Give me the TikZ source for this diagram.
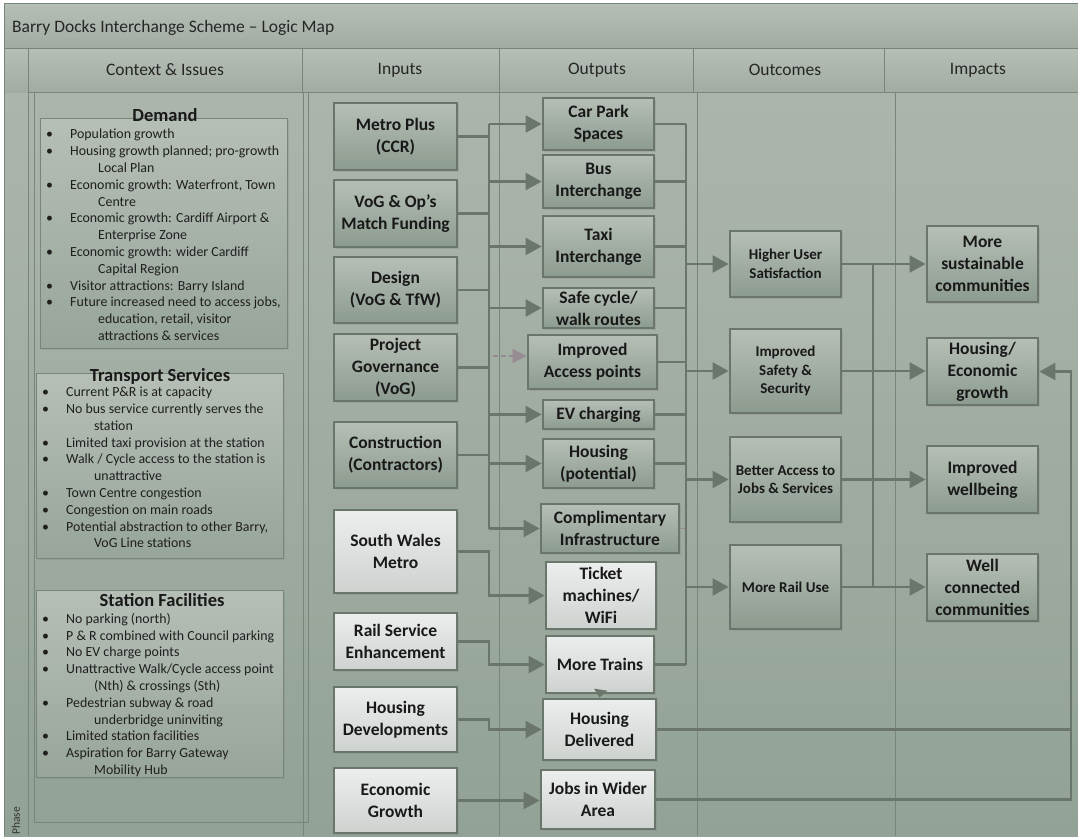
\documentclass[tikz,border=0pt]{standalone}
\usepackage{fontspec}
\setmainfont{Carlito}
\usetikzlibrary{arrows.meta,shadows}

\definecolor{bgtop}{RGB}{172,181,172}
\definecolor{bgbot}{RGB}{146,162,150}
\definecolor{boxtop}{RGB}{182,191,182}
\definecolor{boxbot}{RGB}{140,155,143}
\definecolor{edge}{RGB}{106,118,108}
\definecolor{lighttop}{RGB}{236,238,237}
\definecolor{lightbot}{RGB}{205,210,207}
\definecolor{rule}{RGB}{120,133,123}
\definecolor{pinkish}{RGB}{152,140,148}

\newcommand{\bul}{\makebox[24pt][l]{\textbullet}}
\newcommand{\ind}{\hspace*{52pt}}

\begin{document}
\begin{tikzpicture}[x=1pt,y=-1pt,>={Triangle[length=16pt,width=17pt]},
    box/.style={draw=edge,line width=2.8pt,top color=boxtop,bottom color=boxbot,
      align=center,inner sep=0pt,text=black!90,
      font=\fontsize{17.5}{22}\selectfont\bfseries,
      drop shadow={shadow xshift=1.5pt,shadow yshift=-1.5pt,opacity=0.25}},
    litebox/.style={box,top color=lighttop,bottom color=lightbot},
    smallbox/.style={box,font=\fontsize{15}{18.5}\selectfont\bfseries},
    listbox/.style={draw=rule,line width=0.8pt,top color=boxtop,bottom color=boxbot!90!white,
      inner sep=0pt,drop shadow={shadow xshift=1.5pt,shadow yshift=-1.5pt,opacity=0.25}},
    listhead/.style={inner sep=0pt,text=black!90,font=\fontsize{18.5}{20}\selectfont\bfseries},
    listtext/.style={anchor=north west,align=left,inner sep=0pt,text=black!88,
      font=\fontsize{13.9}{16.8}\selectfont},
    head/.style={inner sep=0pt,text=black!85,font=\fontsize{17.5}{20}\selectfont},
    rulel/.style={draw=rule,line width=0.8pt},
    link/.style={draw=edge,line width=2.4pt},
    arr/.style={link,->},
    pinklink/.style={draw=pinkish,line width=1.6pt},
    dasharr/.style={draw=pinkish,line width=1.6pt,dash pattern=on 5pt off 3pt,
      -{Triangle[length=14pt,width=14pt]}}]

    \useasboundingbox (0,0) rectangle (1078,836);
    \fill[white] (0,0) rectangle (1078,836);

    % frame and headings
    \shade[top color=bgtop,bottom color=bgbot] (4,92) rectangle (1078,836);
    \shade[top color=boxtop,bottom color=bgtop!85!edge] (4,3) rectangle (1078,48);
    \shade[top color=boxtop,bottom color=bgtop!85!edge] (4,48) rectangle (1078,92);
    \draw[rulel] (4,3) rectangle (1078,48);
    \draw[rulel] (4,48) -- (4,836);
    \draw[rulel] (28,48) -- (28,836);
    \draw[rulel] (28,48) rectangle (302,92);
    \draw[rulel] (302,48) rectangle (499,92);
    \draw[rulel] (499,48) rectangle (693,92);
    \draw[rulel] (693,48) rectangle (884,92);
    \draw[rulel] (884,48) rectangle (1078,92);
    \draw[rulel] (34,92) rectangle (308,822);
    \draw[rulel] (303,92) -- (303,836);
    \draw[rulel] (499,92) -- (499,836);
    \draw[rulel] (697,92) -- (697,836);
    \draw[rulel] (895,92) -- (895,836);

    \node[head,anchor=west] (title) at (12,28) {Barry Docks Interchange Scheme – Logic Map};
    \node[head] (hctx) at (165,70) {Context \& Issues};
    \node[head] (hin) at (400,70) {Inputs};
    \node[head] (hout) at (597,70) {Outputs};
    \node[head] (hoc) at (785,70) {Outcomes};
    \node[head] (him) at (978,70) {Impacts};
    \node[inner sep=0pt,rotate=90,text=black!80,font=\fontsize{11.5}{13}\selectfont] (phase) at (16,821) {Phase};

    % context & issues
    \node[listbox,minimum width=247pt,minimum height=230pt] (dem) at (163.5,233) {};
    \node[listhead] (demt) at (165,115) {Demand};
    \node[listtext] (deml) at (46,129) {\bul Population growth\\
      \bul Housing growth planned; pro-growth\\
      \ind Local Plan\\
      \bul Economic growth: Waterfront, Town\\
      \ind Centre\\
      \bul Economic growth: Cardiff Airport \&\\
      \ind Enterprise Zone\\
      \bul Economic growth: wider Cardiff\\
      \ind Capital Region\\
      \bul Visitor attractions: Barry Island\\
      \bul Future increased need to access jobs,\\
      \ind education, retail, visitor\\
      \ind attractions \& services};

    \node[listbox,minimum width=247pt,minimum height=185pt] (trs) at (159.5,465.5) {};
    \node[listhead] (trst) at (160,376) {Transport Services};
    \node[listtext] (trsl) at (42,387) {\bul Current P\&R is at capacity\\
      \bul No bus service currently serves the\\
      \ind station\\
      \bul Limited taxi provision at the station\\
      \bul Walk / Cycle access to the station is\\
      \ind unattractive\\
      \bul Town Centre congestion\\
      \bul Congestion on main roads\\
      \bul Potential abstraction to other Barry,\\
      \ind VoG Line stations};

    \node[listbox,minimum width=247pt,minimum height=187pt] (fac) at (159.5,683.5) {};
    \node[listhead] (fact) at (162,600) {Station Facilities};
    \node[listtext] (facl) at (42,613) {\bul No parking (north)\\
      \bul P \& R combined with Council parking\\
      \bul No EV charge points\\
      \bul Unattractive Walk/Cycle access point\\
      \ind (Nth) \& crossings (Sth)\\
      \bul Pedestrian subway \& road\\
      \ind underbridge uninviting\\
      \bul Limited station facilities\\
      \bul Aspiration for Barry Gateway\\
      \ind Mobility Hub};

    % inputs
    \node[box,minimum width=123pt,minimum height=67pt] (metro) at (395.5,136.5) {Metro Plus\\(CCR)};
    \node[box,minimum width=123pt,minimum height=67pt] (vog) at (395.5,213.5) {VoG \& Op’s\\Match Funding};
    \node[box,minimum width=123pt,minimum height=66pt] (design) at (395.5,290) {Design\\(VoG \& TfW)};
    \node[box,minimum width=123pt,minimum height=67pt] (gov) at (395.5,367.5) {Project\\Governance\\(VoG)};
    \node[box,minimum width=123pt,minimum height=66pt] (constr) at (395.5,455) {Construction\\(Contractors)};
    \node[litebox,minimum width=123pt,minimum height=83pt] (swm) at (395.5,551.5) {South Wales\\Metro};
    \node[litebox,minimum width=123pt,minimum height=57pt] (rail) at (395.5,641.5) {Rail Service\\Enhancement};
    \node[litebox,minimum width=123pt,minimum height=65pt] (housdev) at (395.5,719.5) {Housing\\Developments};
    \node[litebox,minimum width=123pt,minimum height=65pt] (econ) at (395.5,800.5) {Economic\\Growth};

    % outputs
    \node[box,minimum width=111pt,minimum height=52pt] (carpark) at (598.5,124) {Car Park\\Spaces};
    \node[box,minimum width=111pt,minimum height=53pt] (busint) at (598.5,181.5) {Bus\\Interchange};
    \node[box,minimum width=111pt,minimum height=61pt] (taxi) at (598.5,246.5) {Taxi\\Interchange};
    \node[box,minimum width=111pt,minimum height=40pt] (safe) at (598.5,308) {Safe cycle/\\walk routes};
    \node[box,minimum width=129pt,minimum height=54pt] (access) at (592.5,362) {Improved\\Access points};
    \node[box,minimum width=111pt,minimum height=29pt] (ev) at (598.5,414.5) {EV charging};
    \node[box,minimum width=111pt,minimum height=49pt] (houspot) at (598.5,463.5) {Housing\\(potential)};
    \node[box,minimum width=138pt,minimum height=49pt] (compl) at (610,528.5) {Complimentary\\Infrastructure};
    \node[litebox,minimum width=110pt,minimum height=67pt] (ticket) at (601,595.5) {Ticket\\machines/\\WiFi};
    \node[litebox,minimum width=108pt,minimum height=57pt] (trains) at (600,664.5) {More Trains};
    \node[litebox,minimum width=113pt,minimum height=61pt] (housdel) at (599.5,729.5) {Housing\\Delivered};
    \node[litebox,minimum width=114pt,minimum height=59pt] (jobs) at (598,799.5) {Jobs in Wider\\Area};

    % outcomes
    \node[smallbox,minimum width=111pt,minimum height=66pt] (satis) at (785.5,264) {Higher User\\Satisfaction};
    \node[smallbox,minimum width=111pt,minimum height=84pt] (safety) at (785.5,371) {Improved\\Safety \&\\Security};
    \node[smallbox,minimum width=111pt,minimum height=85pt] (better) at (785.5,479.5) {Better Access to\\Jobs \& Services};
    \node[smallbox,minimum width=111pt,minimum height=84pt] (railuse) at (785.5,587) {More Rail Use};

    % impacts
    \node[box,minimum width=111pt,minimum height=76pt] (sust) at (982.5,264) {More\\sustainable\\communities};
    \node[box,minimum width=111pt,minimum height=67pt] (housecon) at (982.5,371.5) {Housing/\\Economic\\growth};
    \node[box,minimum width=111pt,minimum height=67pt] (wellb) at (982.5,479.5) {Improved\\wellbeing};
    \node[box,minimum width=111pt,minimum height=67pt] (wellc) at (982.5,587.5) {Well\\connected\\communities};

    \coordinate (inbus) at (489,0);
    \coordinate (outbus) at (686,0);
    \coordinate (ocbus) at (873,0);
    \coordinate (rim) at (1071,0);
    \coordinate (dsh) at (493,356);

    % inputs to outputs
    \draw[link] (metro.east) -- (metro.east -| inbus);
    \draw[link] (vog.east) -- (vog.east -| inbus);
    \draw[link] (design.east) -- (design.east -| inbus);
    \draw[link] (gov.east) -- (gov.east -| inbus);
    \draw[link] (constr.east) -- (constr.east -| inbus);
    \draw[link] (carpark.west -| inbus) -- (compl.west -| inbus);
    \draw[arr] (carpark.west -| inbus) -- (carpark.west);
    \draw[arr] (busint.west -| inbus) -- (busint.west);
    \draw[arr] (taxi.west -| inbus) -- (taxi.west);
    \draw[arr] (safe.west -| inbus) -- (safe.west);
    \draw[dasharr] (dsh) -- (dsh -| access.west);
    \draw[arr] (ev.west -| inbus) -- (ev.west);
    \draw[arr] (houspot.west -| inbus) -- (houspot.west);
    \draw[arr] (compl.west -| inbus) -- (compl.west);
    \draw[arr] (swm.east) -- (swm.east -| inbus) |- (ticket.west);
    \draw[arr] (rail.east) -- (rail.east -| inbus) |- (trains.west);
    \draw[arr] (housdev.east) -- (housdev.east -| inbus) |- (housdel.west);
    \draw[arr] (econ.east) -- (econ.east -| jobs.west);
    \draw[link,-{Triangle[length=8pt,width=13pt]}] (trains.south) -- (housdel.north);

    % outputs to outcomes
    \draw[link] (carpark.east) -- (carpark.east -| outbus);
    \draw[link] (busint.east) -- (busint.east -| outbus);
    \draw[link] (taxi.east) -- (taxi.east -| outbus);
    \draw[link] (safe.east) -- (safe.east -| outbus);
    \draw[link] (access.east) -- (access.east -| outbus);
    \draw[link] (ev.east) -- (ev.east -| outbus);
    \draw[link] (houspot.east) -- (houspot.east -| outbus);
    \draw[pinklink] (compl.east) -- (compl.east -| outbus);
    \draw[link] (trains.east) -- (trains.east -| outbus);
    \draw[link] (carpark.east -| outbus) -- (trains.east -| outbus);
    \draw[arr] (satis.west -| outbus) -- (satis.west);
    \draw[arr] (safety.west -| outbus) -- (safety.west);
    \draw[arr] (better.west -| outbus) -- (better.west);
    \draw[arr] (railuse.west -| outbus) -- (railuse.west);

    % outcomes to impacts
    \draw[arr] (satis.east) -- (sust.west);
    \draw[arr] (safety.east) -- (safety.east -| housecon.west);
    \draw[arr] (better.east) -- (wellb.west);
    \draw[arr] (railuse.east) -- (railuse.east -| wellc.west);
    \draw[link] (satis.east -| ocbus) -- (railuse.east -| ocbus);
    \draw[link] (housdel.east) -- (housdel.east -| rim);
    \draw[arr] (jobs.east) -- (jobs.east -| rim) |- (housecon.east);
\end{tikzpicture}
\end{document}
